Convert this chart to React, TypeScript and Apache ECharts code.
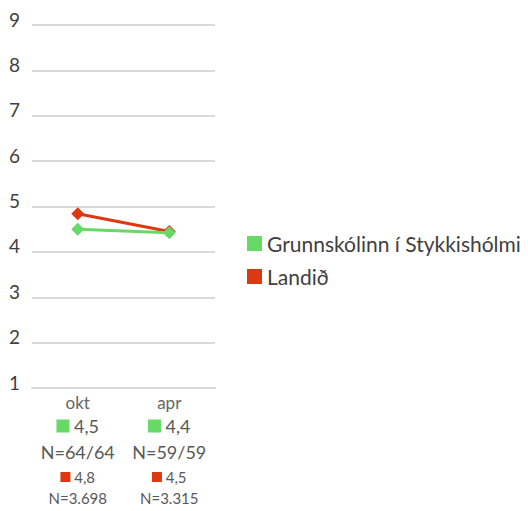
import React, { useEffect, useRef } from "react";
import * as echarts from "echarts";

const categories = ["okt", "apr"];
const schoolName = "Grunnskólinn í Stykkishólmi";
const countryName = "Landið";
const schoolValues = [4.5, 4.42];
const countryValues = [4.84, 4.45];
const schoolLabels = ["4,5", "4,4"];
const schoolN = ["N=64/64", "N=59/59"];
const countryLabels = ["4,8", "4,5"];
const countryN = ["N=3.698", "N=3.315"];
const yTicks = [1, 2, 3, 4, 5, 6, 7, 8, 9];

const GREEN = "#66d966";
const RED = "#dc3912";
const FONT = "Lato";

export default function App() {
  const ref = useRef<HTMLDivElement>(null);
  useEffect(() => {
    if (!ref.current) return;
    const chart = echarts.init(ref.current, undefined, { renderer: "svg" });
    chart.setOption({
      animation: false,
      textStyle: { fontFamily: FONT },
      grid: { left: 32, right: 313, top: 25, bottom: 123, containLabel: false },
      legend: {
        orient: "vertical",
        left: 247,
        top: 233,
        padding: 0,
        itemWidth: 15,
        itemHeight: 15,
        itemGap: 12,
        icon: "rect",
        textStyle: { fontSize: 21, color: "#404040", fontFamily: FONT },
        data: [schoolName, countryName],
      },
      xAxis: {
        type: "category",
        data: categories,
        boundaryGap: true,
        axisLine: { show: true, lineStyle: { color: "#d9d9d9", width: 2 } },
        axisTick: { show: false },
        axisLabel: {
          margin: 2,
          interval: 0,
          formatter: (_v: string, i: number) =>
            `{a|${categories[i]}}\n{g|}{v| ${schoolLabels[i]}}\n{n|${schoolN[i]}}\n{r|}{s| ${countryLabels[i]}}\n{m|${countryN[i]}}`,
          rich: {
            a: { fontSize: 17, color: "#666666", lineHeight: 24, fontFamily: FONT },
            g: { width: 13, height: 13, backgroundColor: GREEN, lineHeight: 24 },
            v: { fontSize: 18, color: "#595959", lineHeight: 24, fontFamily: FONT },
            n: { fontSize: 18, color: "#595959", lineHeight: 28, fontFamily: FONT },
            r: { width: 10, height: 10, backgroundColor: RED, lineHeight: 22 },
            s: { fontSize: 15, color: "#595959", lineHeight: 22, fontFamily: FONT },
            m: { fontSize: 15, color: "#595959", lineHeight: 20, fontFamily: FONT },
          },
        },
      },
      yAxis: {
        type: "value",
        min: yTicks[0],
        max: yTicks[yTicks.length - 1],
        interval: 1,
        axisLine: { show: false },
        axisTick: { show: false },
        axisLabel: {
          fontSize: 19,
          color: "#404040",
          margin: 12,
          verticalAlign: "bottom",
          lineHeight: 12,
          fontFamily: FONT,
        },
        splitLine: { lineStyle: { color: "#d9d9d9", width: 2 } },
      },
      series: [
        {
          name: schoolName,
          type: "line",
          data: schoolValues,
          symbol: "diamond",
          symbolSize: 13,
          itemStyle: { color: GREEN },
          lineStyle: { color: GREEN, width: 3 },
          z: 3,
        },
        {
          name: countryName,
          type: "line",
          data: countryValues,
          symbol: "diamond",
          symbolSize: 13,
          itemStyle: { color: RED },
          lineStyle: { color: RED, width: 3 },
          z: 2,
        },
      ],
    });
    return () => chart.dispose();
  }, []);
  return <div ref={ref} style={{ width: 528, height: 511, position: "absolute", left: 0, top: 0 }} />;
}
